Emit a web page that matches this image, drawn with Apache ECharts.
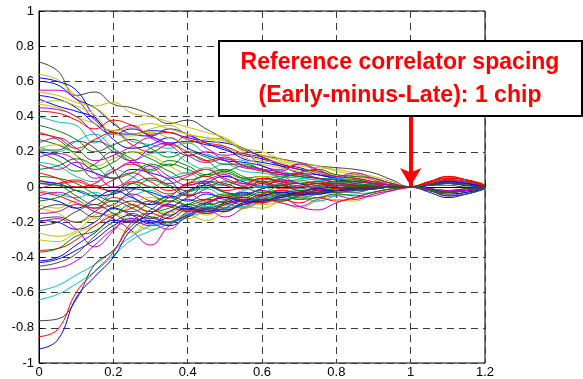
<!DOCTYPE html>
<html><head><meta charset="utf-8">
<script src="https://cdn.jsdelivr.net/npm/echarts@6/dist/echarts.min.js"></script>
<style>html,body{margin:0;padding:0;background:#fff}#c{width:583px;height:379px}</style>
</head><body><div id="c"></div>
<script>
const xValues = [0,0.05,0.1,0.15,0.2,0.25,0.3,0.35,0.4,0.45,0.5,0.55,0.6,0.65,0.7,0.75,0.8,0.85,0.9,0.95,1.0,1.05,1.1,1.15,1.2];
const xTicks = [0,0.2,0.4,0.6,0.8,1,1.2];
const yTicks = [-1,-0.8,-0.6,-0.4,-0.2,0,0.2,0.4,0.6,0.8,1];
const annotationLines = ['Reference correlator spacing','(Early-minus-Late): 1 chip'];
const arrowFrom = [1, 0.41];
const arrowTo = [1, 0.005];
const curveColors = ['k','y','b','b','m','y','b','b','y','y','r','c','g','g','k','y','b','g','m','c','m','g','r','b','k','r','c','m','y','y','k','m','k','b','m','y','y','r','g','b','b','k','m','c','c','k','r','b','g','r','c','r','g','m','b','g','r','m','g','k'];
const curveValues = [
[0.71,0.66,0.52,0.54,0.47,0.45,0.41,0.36,0.38,0.33,0.27,0.21,0.18,0.16,0.14,0.12,0.11,0.10,0.08,0.04,0,0.02,0.03,0.02,0.01],
[0.64,0.61,0.52,0.46,0.48,0.42,0.40,0.37,0.34,0.31,0.28,0.22,0.18,0.15,0.12,0.11,0.10,0.08,0.06,0.03,0,0.03,0.05,0.04,0.02],
[0.62,0.60,0.55,0.40,0.31,0.30,0.32,0.31,0.28,0.26,0.25,0.22,0.17,0.13,0.11,0.08,0.06,0.05,0.03,0.01,0,-0.01,-0.02,-0.01,0.0],
[0.60,0.58,0.50,0.45,0.36,0.30,0.29,0.33,0.30,0.25,0.21,0.18,0.16,0.12,0.08,0.07,0.05,0.04,0.02,0.01,0,0.01,0.02,0.01,0],
[0.55,0.55,0.50,0.38,0.32,0.35,0.28,0.24,0.29,0.22,0.18,0.19,0.12,0.10,0.13,0.09,0.05,0.07,0.04,0.02,0,0.02,0.03,0.02,0.0],
[0.54,0.52,0.48,0.45,0.37,0.30,0.33,0.35,0.30,0.28,0.27,0.20,0.15,0.14,0.10,0.09,0.07,0.06,0.04,0.02,0,-0.01,-0.02,-0.02,-0.01],
[0.52,0.50,0.45,0.36,0.30,0.33,0.29,0.25,0.26,0.24,0.22,0.16,0.14,0.12,0.10,0.07,0.05,0.03,0.03,0.01,0,0.02,0.04,0.03,0.01],
[0.50,0.46,0.43,0.39,0.27,0.22,0.24,0.28,0.22,0.18,0.15,0.14,0.12,0.08,0.06,0.05,0.04,0.03,0.02,0.01,0,-0.02,-0.03,-0.02,-0.01],
[0.48,0.49,0.46,0.41,0.30,0.29,0.31,0.28,0.25,0.27,0.23,0.17,0.13,0.11,0.09,0.08,0.06,0.04,0.03,0.01,0,0.03,0.04,0.03,0.01],
[0.47,0.45,0.40,0.36,0.32,0.34,0.36,0.33,0.30,0.28,0.26,0.22,0.20,0.16,0.13,0.12,0.09,0.07,0.05,0.02,0,0.02,0.03,0.03,0.01],
[0.43,0.42,0.38,0.33,0.38,0.35,0.30,0.31,0.27,0.25,0.23,0.19,0.17,0.13,0.10,0.09,0.06,0.05,0.03,0.01,0,0.03,0.06,0.04,0.01],
[0.40,0.37,0.35,0.25,0.31,0.26,0.24,0.22,0.25,0.19,0.16,0.15,0.10,0.09,0.06,0.04,0.05,0.03,0.02,0.01,0,-0.01,-0.03,-0.02,0],
[0.31,0.27,0.18,0.10,0.14,0.20,0.16,0.12,0.18,0.15,0.09,0.12,0.10,0.06,0.07,0.05,0.03,0.04,0.02,0.01,0,0.02,0.03,0.02,0.01],
[0.27,0.24,0.20,0.26,0.22,0.14,0.10,0.15,0.12,0.07,0.08,0.05,0.06,0.03,0.04,0.02,0.03,0.01,0.01,0,0,-0.01,-0.02,-0.01,0],
[0.21,0.21,0.26,0.22,0.10,-0.05,-0.10,-0.06,0.02,0.03,0.01,0.04,0.03,0.01,0.02,0.01,0.02,0.01,0.00,0,0,0.01,0.02,0.01,0.01],
[0.22,0.24,0.18,0.12,0.16,0.20,0.18,0.12,0.08,0.11,0.07,0.04,0.06,0.05,0.02,0.03,0.01,0.02,0.01,0,0,-0.02,-0.04,-0.03,-0.01],
[0.20,0.18,0.12,0.08,0.05,0.10,0.08,0.04,-0.05,0.02,0.06,0.03,0.00,0.04,0.02,-0.01,0.02,0.01,0,0,0,0.01,0.03,0.02,0.01],
[0.20,0.15,0.09,0.13,0.20,0.16,0.09,0.13,0.10,0.06,0.09,0.05,0.04,0.06,0.02,0.03,0.02,0.01,0.01,0,0,0.02,0.04,0.03,0.01],
[0.17,0.19,0.15,0.05,0.09,0.14,0.12,0.05,0.07,0.10,0.04,0.01,0.05,0.03,0.00,0.02,0.01,0.00,0.01,0,0,-0.02,-0.03,-0.02,-0.01],
[0.14,0.12,0.06,0.03,0.10,0.06,0.00,0.05,0.08,0.02,0.01,0.04,0.00,0.02,0.03,-0.01,0.01,0.02,0,0,0,0.01,0.02,0.02,0],
[0.13,0.10,0.14,0.08,0.00,0.05,0.12,0.06,0.01,0.04,0.07,0.02,0.01,0.04,0.02,0.00,0.02,0.01,0,0,0,-0.02,-0.05,-0.03,-0.01],
[0.06,0.05,0.02,-0.04,-0.08,-0.02,0.04,0.00,-0.05,-0.01,0.03,0.00,-0.03,0.01,0.02,-0.02,-0.01,0.01,0,0,0,0.02,0.03,0.02,0],
[0.04,0.02,0.03,0.00,0.04,0.08,0.03,-0.02,0.02,0.06,0.01,-0.01,0.03,0.02,-0.01,0.01,0.02,0,0.01,0,0,0.03,0.06,0.04,0.01],
[0.03,0.02,-0.02,-0.05,-0.04,-0.01,-0.03,-0.06,-0.02,0.01,-0.03,-0.04,-0.01,0.01,-0.02,-0.01,0.00,-0.01,0,0,0,-0.02,-0.04,-0.03,-0.01],
[0.02,0.01,0.00,0.01,-0.03,0.02,0.05,0.01,-0.02,0.03,0.02,-0.01,0.02,0.00,0.01,0.02,-0.01,0.00,0.01,0,0,0.01,0.01,0.00,0],
[-0.01,0.02,0.04,0.00,-0.02,0.03,0.00,-0.04,0.01,0.02,-0.02,0.00,0.03,-0.01,0.00,0.02,0.00,-0.01,0,0,0,-0.01,-0.02,-0.02,0],
[-0.02,-0.04,-0.06,-0.03,-0.08,-0.05,-0.02,-0.06,-0.03,-0.01,-0.05,-0.02,0.00,-0.03,-0.01,0.00,-0.02,-0.01,0,0,0,0.01,0.02,0.01,0],
[-0.05,-0.03,-0.07,-0.12,-0.10,-0.04,-0.08,-0.11,-0.06,-0.03,-0.07,-0.05,-0.02,-0.04,-0.03,-0.01,-0.02,-0.01,0,0,0,0.02,0.03,0.02,0.01],
[-0.10,-0.12,-0.08,-0.14,-0.16,-0.10,-0.06,-0.10,-0.13,-0.07,-0.05,-0.09,-0.06,-0.03,-0.05,-0.03,-0.01,-0.02,-0.01,0,0,-0.02,-0.03,-0.02,-0.01],
[-0.12,-0.15,-0.20,-0.16,-0.10,-0.18,-0.22,-0.15,-0.12,-0.16,-0.11,-0.08,-0.10,-0.09,-0.12,-0.08,-0.07,-0.08,-0.04,-0.02,0,0.01,0.02,0.02,0],
[-0.13,-0.10,-0.12,-0.17,-0.12,-0.08,-0.12,-0.16,-0.10,-0.07,-0.09,-0.12,-0.08,-0.05,-0.07,-0.04,-0.03,-0.03,-0.01,0,0,-0.01,-0.02,-0.01,0],
[-0.15,-0.14,-0.10,-0.14,-0.18,-0.25,-0.33,-0.22,-0.16,-0.12,-0.08,-0.10,-0.07,-0.06,-0.11,-0.13,-0.09,-0.06,-0.05,-0.02,0,0.02,0.04,0.03,0.01],
[-0.18,-0.17,-0.20,-0.14,-0.08,-0.12,-0.17,-0.20,-0.14,-0.09,-0.12,-0.10,-0.06,-0.08,-0.05,-0.03,-0.03,-0.01,-0.01,0,0,-0.01,-0.03,-0.02,-0.01],
[-0.19,-0.20,-0.24,-0.20,-0.12,-0.16,-0.21,-0.14,-0.11,-0.15,-0.12,-0.08,-0.09,-0.05,-0.06,-0.04,-0.02,-0.02,-0.01,0,0,0.01,0.02,0.01,0],
[-0.20,-0.18,-0.24,-0.34,-0.25,-0.15,-0.20,-0.24,-0.15,-0.13,-0.17,-0.12,-0.07,-0.09,-0.11,-0.07,-0.05,-0.07,-0.04,-0.02,0,-0.02,-0.05,-0.04,-0.01],
[-0.26,-0.28,-0.25,-0.18,-0.22,-0.26,-0.18,-0.14,-0.18,-0.13,-0.10,-0.12,-0.08,-0.06,-0.07,-0.04,-0.03,-0.02,-0.01,0,0,0.02,0.03,0.02,0.01],
[-0.30,-0.31,-0.26,-0.22,-0.15,-0.20,-0.24,-0.21,-0.16,-0.19,-0.14,-0.11,-0.12,-0.08,-0.05,-0.06,-0.04,-0.02,-0.01,0,0,-0.01,-0.02,-0.02,0],
[-0.36,-0.35,-0.30,-0.22,-0.16,-0.12,-0.08,-0.11,-0.14,-0.10,-0.06,-0.08,-0.04,-0.05,-0.03,-0.01,-0.02,-0.01,0,0,0,0.03,0.05,0.04,0.01],
[-0.37,-0.35,-0.28,-0.25,-0.17,-0.10,-0.14,-0.12,-0.07,-0.10,-0.08,-0.04,-0.06,-0.03,-0.04,-0.02,-0.01,-0.01,0,0,0,-0.02,-0.03,-0.02,-0.01],
[-0.42,-0.40,-0.33,-0.26,-0.19,-0.20,-0.15,-0.10,-0.13,-0.09,-0.06,-0.08,-0.05,-0.03,-0.04,-0.02,-0.02,-0.01,0,0,0,0.02,0.04,0.03,0.01],
[-0.43,-0.41,-0.36,-0.30,-0.22,-0.18,-0.20,-0.17,-0.12,-0.14,-0.10,-0.07,-0.08,-0.05,-0.03,-0.04,-0.02,-0.01,-0.01,0,0,-0.03,-0.06,-0.04,-0.01],
[-0.45,-0.43,-0.38,-0.28,-0.20,-0.16,-0.18,-0.14,-0.10,-0.12,-0.09,-0.06,-0.07,-0.04,-0.05,-0.03,-0.02,-0.01,0,0,0,0.01,0.02,0.02,0],
[-0.47,-0.46,-0.42,-0.33,-0.24,-0.19,-0.22,-0.20,-0.16,-0.12,-0.13,-0.10,-0.08,-0.06,-0.04,-0.04,-0.02,-0.02,-0.01,0,0,0.02,0.03,0.02,0.01],
[-0.59,-0.56,-0.50,-0.44,-0.36,-0.28,-0.22,-0.20,-0.15,-0.11,-0.12,-0.09,-0.06,-0.07,-0.06,-0.08,-0.05,-0.04,-0.03,-0.01,0,-0.01,-0.03,-0.02,-0.01],
[-0.64,-0.61,-0.55,-0.48,-0.39,-0.30,-0.25,-0.21,-0.17,-0.14,-0.10,-0.11,-0.08,-0.05,-0.06,-0.04,-0.03,-0.02,-0.01,0,0,0.01,0.03,0.02,0.01],
[-0.76,-0.75,-0.64,-0.44,-0.36,-0.22,-0.17,-0.20,-0.16,-0.12,-0.13,-0.10,-0.07,-0.08,-0.05,-0.03,-0.03,-0.02,-0.01,0,0,-0.02,-0.03,-0.02,-0.01],
[-0.85,-0.81,-0.60,-0.48,-0.37,-0.20,-0.15,-0.18,-0.13,-0.15,-0.10,-0.08,-0.09,-0.07,-0.09,-0.06,-0.08,-0.06,-0.03,-0.01,0,0.03,0.05,0.04,0.01],
[-0.92,-0.87,-0.63,-0.51,-0.40,-0.24,-0.19,-0.22,-0.17,-0.13,-0.14,-0.09,-0.08,-0.06,-0.04,-0.04,-0.02,-0.01,-0.01,0,0,-0.01,-0.03,-0.02,0],
[0.10,0.12,0.16,0.12,0.05,0.08,0.13,0.09,0.04,0.07,0.10,0.06,0.03,0.05,0.08,0.10,0.07,0.06,0.05,0.02,0,0.02,0.03,0.02,0.01],
[0.08,0.05,0.00,0.02,0.09,0.13,0.07,0.02,0.06,0.10,0.05,0.02,0.05,0.03,0.02,0.03,0.01,0.01,0,0,0,-0.02,-0.03,-0.02,-0.01],
[0.23,0.20,0.26,0.30,0.22,0.15,0.19,0.20,0.14,0.10,0.13,0.09,0.08,0.06,0.05,0.04,0.03,0.02,0.01,0,0,0.02,0.04,0.03,0.01],
[0.30,0.28,0.22,0.27,0.31,0.24,0.20,0.24,0.20,0.15,0.17,0.12,0.09,0.08,0.07,0.05,0.03,0.03,0.02,0.01,0,0.03,0.05,0.04,0.01],
[0.35,0.32,0.27,0.20,0.24,0.27,0.22,0.17,0.20,0.17,0.13,0.13,0.10,0.07,0.06,0.05,0.04,0.02,0.01,0,0,-0.02,-0.03,-0.02,-0.01],
[0.25,0.28,0.22,0.15,0.18,0.23,0.28,0.24,0.18,0.20,0.15,0.11,0.10,0.09,0.13,0.10,0.06,0.08,0.05,0.02,0,0.02,0.03,0.02,0.01],
[-0.06,-0.08,-0.12,-0.07,-0.02,-0.06,-0.10,-0.05,-0.08,-0.04,-0.06,-0.03,-0.05,-0.02,-0.03,-0.01,-0.02,-0.01,0,0,0,0.01,0.03,0.02,0],
[-0.08,-0.06,-0.02,-0.06,-0.12,-0.14,-0.09,-0.06,-0.10,-0.07,-0.04,-0.06,-0.03,-0.04,-0.07,-0.06,-0.04,-0.05,-0.03,-0.01,0,-0.02,-0.05,-0.04,-0.01],
[-0.03,-0.05,-0.09,-0.12,-0.06,-0.10,-0.14,-0.09,-0.04,-0.08,-0.05,-0.07,-0.04,-0.02,-0.03,-0.02,-0.01,0,0,0,0,0.02,0.04,0.03,0.01],
[0.45,0.44,0.40,0.30,0.20,0.15,0.22,0.25,0.18,0.14,0.16,0.12,0.10,0.07,0.08,0.05,0.03,0.03,0.02,0.01,0,-0.01,-0.02,-0.02,0],
[0.02,0.01,-0.05,-0.10,-0.03,0.02,-0.04,-0.08,-0.03,0.00,-0.03,-0.05,-0.01,0.01,-0.02,0.00,0.01,0,0,0,0,0.01,0.02,0.01,0],
[-0.22,-0.20,-0.14,-0.10,-0.15,-0.20,-0.13,-0.08,-0.11,-0.14,-0.09,-0.06,-0.08,-0.05,-0.04,-0.03,-0.02,-0.01,-0.01,0,0,0.01,0.02,0.01,0]
];
const colorMap = {b:'#0000FF', g:'#008000', r:'#FF0000', c:'#00BFBF', m:'#BF00BF', y:'#BFBF00', k:'#404040'};

const chart = echarts.init(document.getElementById('c'), null, {renderer:'canvas'});
const series = curveValues.map((vals, i) => ({
  type: 'line',
  data: vals.map((v, j) => [xValues[j], v]),
  showSymbol: false,
  smooth: 0.45,
  silent: true,
  animation: false,
  lineStyle: {width: 1, color: colorMap[curveColors[i]]},
  itemStyle: {color: colorMap[curveColors[i]]},
  z: 2
}));
series.push({
  type: 'line', data: [], silent: true, animation: false, z: 10,
  markLine: {
    silent: true, animation: false, symbol: ['none', 'arrow'], symbolSize: [16, 18],
    label: {show: false},
    lineStyle: {color: '#FF0000', width: 4, type: 'solid'},
    data: [[{coord: arrowFrom}, {coord: arrowTo}]]
  }
});
const textFont = 'Liberation Sans';
chart.setOption({
  animation: false,
  backgroundColor: '#fff',
  grid: {left: 39, right: 98, top: 11, bottom: 16, show: true, borderColor: '#000', borderWidth: 1, backgroundColor: 'transparent'},
  xAxis: {
    type: 'value', min: 0, max: 1.2, interval: 0.2,
    axisLine: {show: true, lineStyle: {color: '#000', width: 1}},
    axisTick: {show: true, inside: true, length: 4, lineStyle: {color: '#000'}},
    axisLabel: {color: '#000', fontSize: 13, fontFamily: textFont, margin: 3, formatter: v => String(Math.round(v*10)/10)},
    splitLine: {show: true, lineStyle: {color: '#3a3a3a', type: [7, 5], width: 1}}
  },
  yAxis: {
    type: 'value', min: -1, max: 1, interval: 0.2,
    axisLine: {show: true, lineStyle: {color: '#000', width: 1}},
    axisTick: {show: true, inside: true, length: 4, lineStyle: {color: '#000'}},
    axisLabel: {color: '#000', fontSize: 13, fontFamily: textFont, margin: 5, formatter: v => String(Math.round(v*10)/10)},
    splitLine: {show: true, lineStyle: {color: '#3a3a3a', type: [7, 5], width: 1}}
  },
  graphic: [
    {type: 'rect', left: 218, top: 40, z: 100, shape: {width: 363, height: 75}, style: {fill: '#fff', stroke: '#000', lineWidth: 2}},
    {type: 'text', z: 101, x: 400, y: 62, scaleX: 0.96, style: {text: annotationLines[0], fill: '#FF0000', font: 'bold 24px "Liberation Sans"', textAlign: 'center', textVerticalAlign: 'middle'}},
    {type: 'text', z: 101, x: 400, y: 95, scaleX: 0.96, style: {text: annotationLines[1], fill: '#FF0000', font: 'bold 24px "Liberation Sans"', textAlign: 'center', textVerticalAlign: 'middle'}}
  ],
  series: series
});
</script></body></html>
